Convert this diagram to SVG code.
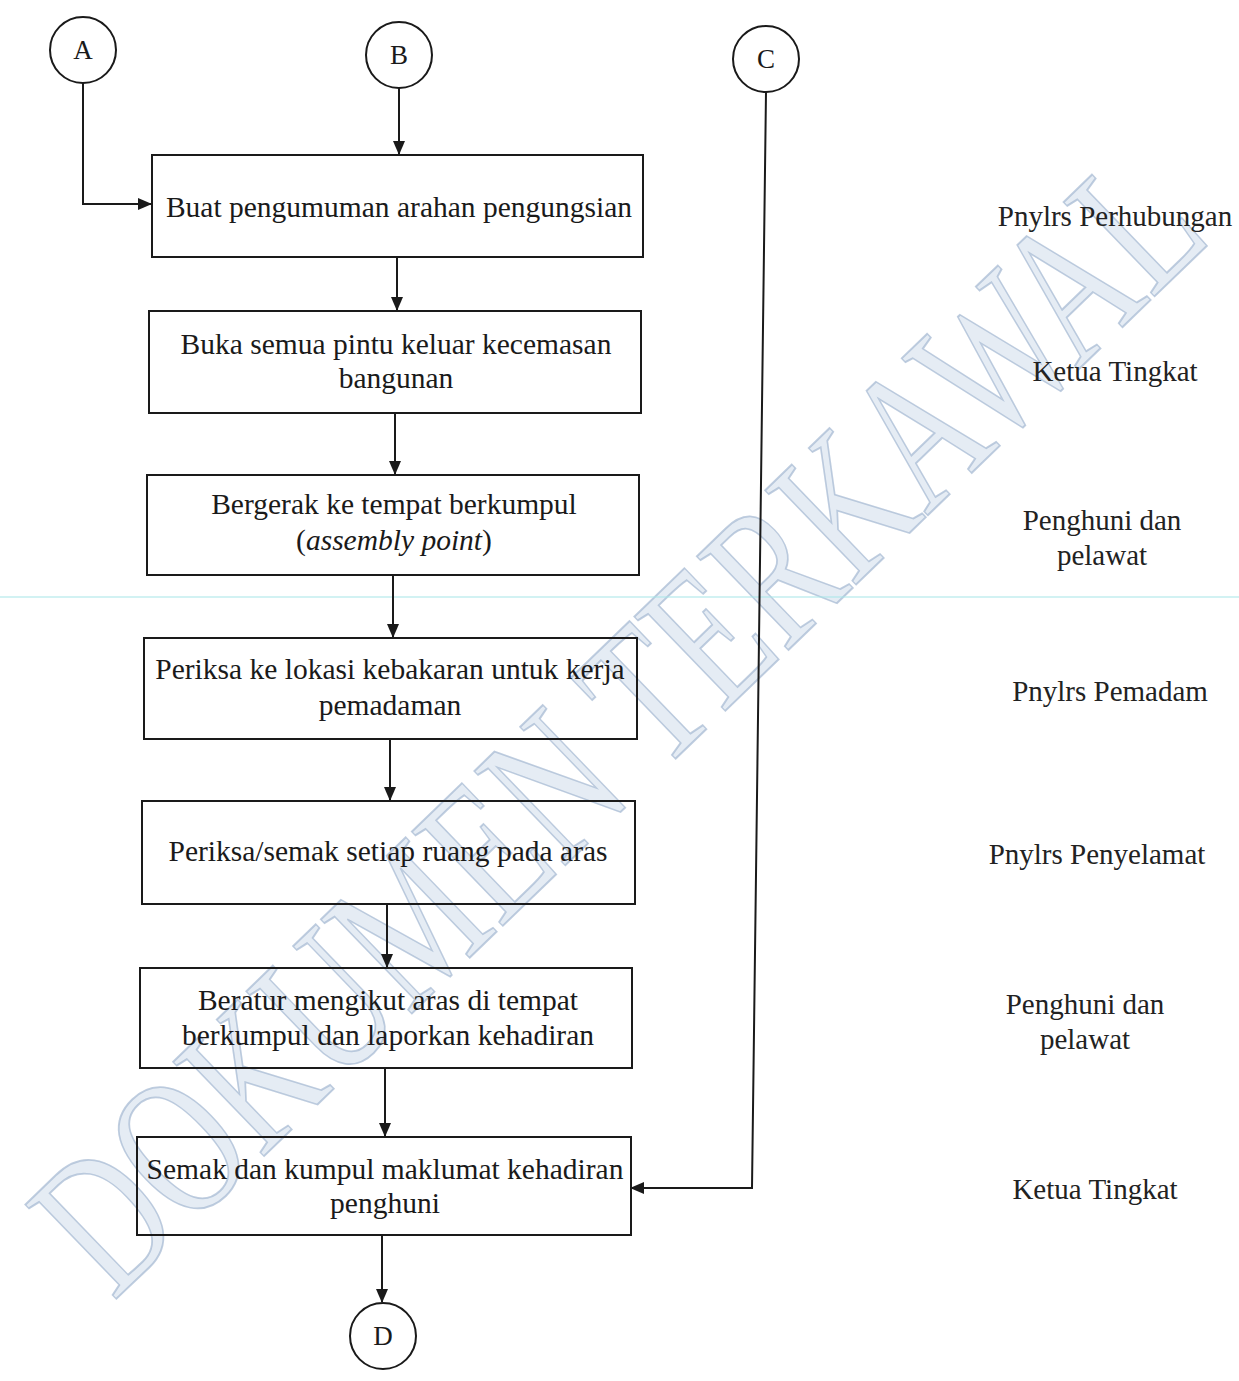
<svg xmlns="http://www.w3.org/2000/svg" width="1239" height="1381" viewBox="0 0 1239 1381">
<style>
.box{fill:none;stroke:#1a1a1a;stroke-width:2}
.circ{fill:none;stroke:#1a1a1a;stroke-width:2}
.t{font-family:"Liberation Serif","Times New Roman",serif;font-size:29.5px;fill:#1a1a1a;text-anchor:middle}
.lbl{font-family:"Liberation Serif","Times New Roman",serif;font-size:29px;fill:#222;text-anchor:middle}
.cl{font-family:"Liberation Serif","Times New Roman",serif;font-size:27px;fill:#1a1a1a;text-anchor:middle}
.ln{fill:none;stroke:#1a1a1a;stroke-width:2}
.wm{font-family:"Liberation Serif","Times New Roman",serif;font-size:200px;fill:#c6d4e6;fill-opacity:0.45;stroke:#a4b8d2;stroke-width:2;stroke-opacity:0.7;text-anchor:middle}
</style>
<defs>
<marker id="ah" markerWidth="14" markerHeight="12" refX="13" refY="6" orient="auto" markerUnits="userSpaceOnUse">
<path d="M0,0 L14,6 L0,12 z" fill="#1a1a1a"/>
</marker>
</defs>
<rect width="1239" height="1381" fill="#ffffff"/>
<g id="watermark">
<text class="wm" x="0" y="0" transform="translate(615,720) rotate(-44)" dy="70" textLength="1530" lengthAdjust="spacingAndGlyphs">DOKUMEN TERKAWAL</text>
</g>
<line x1="0" y1="597" x2="1239" y2="597" stroke="#a6e6e8" stroke-width="1.2"/>
<g id="connectors">
<polyline class="ln" points="83,83 83,204 151,204" marker-end="url(#ah)"/>
<line class="ln" x1="399" y1="88" x2="399" y2="154" marker-end="url(#ah)"/>
<line class="ln" x1="397" y1="257" x2="397" y2="310" marker-end="url(#ah)"/>
<line class="ln" x1="395" y1="413" x2="395" y2="474" marker-end="url(#ah)"/>
<line class="ln" x1="393" y1="575" x2="393" y2="637" marker-end="url(#ah)"/>
<line class="ln" x1="390" y1="739" x2="390" y2="800" marker-end="url(#ah)"/>
<line class="ln" x1="387" y1="904" x2="387" y2="967" marker-end="url(#ah)"/>
<line class="ln" x1="385" y1="1068" x2="385" y2="1136" marker-end="url(#ah)"/>
<line class="ln" x1="382" y1="1235" x2="382" y2="1302" marker-end="url(#ah)"/>
<polyline class="ln" points="766,92 752,1188 631,1188" marker-end="url(#ah)"/>
</g>
<g id="nodeA"><circle class="circ" cx="83" cy="50" r="33"/><text class="cl" x="83" y="59">A</text></g>
<g id="nodeB"><circle class="circ" cx="399" cy="55" r="33"/><text class="cl" x="399" y="64">B</text></g>
<g id="nodeC"><circle class="circ" cx="766" cy="59" r="33"/><text class="cl" x="766" y="68">C</text></g>
<g id="nodeD"><circle class="circ" cx="383" cy="1336" r="33"/><text class="cl" x="383" y="1345">D</text></g>
<g id="box1"><rect class="box" x="152" y="155" width="491" height="102"/><text class="t" x="399" y="217">Buat pengumuman arahan pengungsian</text></g>
<g id="box2"><rect class="box" x="149" y="311" width="492" height="102"/><text class="t" x="396" y="354">Buka semua pintu keluar kecemasan</text><text class="t" x="396" y="388">bangunan</text></g>
<g id="box3"><rect class="box" x="147" y="475" width="492" height="100"/><text class="t" x="394" y="514">Bergerak ke tempat berkumpul</text><text class="t" x="394" y="550">(<tspan font-style="italic">assembly point</tspan>)</text></g>
<g id="box4"><rect class="box" x="144" y="638" width="493" height="101"/><text class="t" x="390" y="679">Periksa ke lokasi kebakaran untuk kerja</text><text class="t" x="390" y="715">pemadaman</text></g>
<g id="box5"><rect class="box" x="142" y="801" width="493" height="103"/><text class="t" x="388" y="861">Periksa/semak setiap ruang pada aras</text></g>
<g id="box6"><rect class="box" x="140" y="968" width="492" height="100"/><text class="t" x="388" y="1010">Beratur mengikut aras di tempat</text><text class="t" x="388" y="1045">berkumpul dan laporkan kehadiran</text></g>
<g id="box7"><rect class="box" x="137" y="1137" width="494" height="98"/><text class="t" x="385" y="1179">Semak dan kumpul maklumat kehadiran</text><text class="t" x="385" y="1213">penghuni</text></g>
<g id="labels">
<text class="lbl" x="1115" y="226">Pnylrs Perhubungan</text>
<text class="lbl" x="1115" y="381">Ketua Tingkat</text>
<text class="lbl" x="1102" y="530">Penghuni dan</text>
<text class="lbl" x="1102" y="565">pelawat</text>
<text class="lbl" x="1110" y="701">Pnylrs Pemadam</text>
<text class="lbl" x="1097" y="864">Pnylrs Penyelamat</text>
<text class="lbl" x="1085" y="1014">Penghuni dan</text>
<text class="lbl" x="1085" y="1049">pelawat</text>
<text class="lbl" x="1095" y="1199">Ketua Tingkat</text>
</g>
</svg>
